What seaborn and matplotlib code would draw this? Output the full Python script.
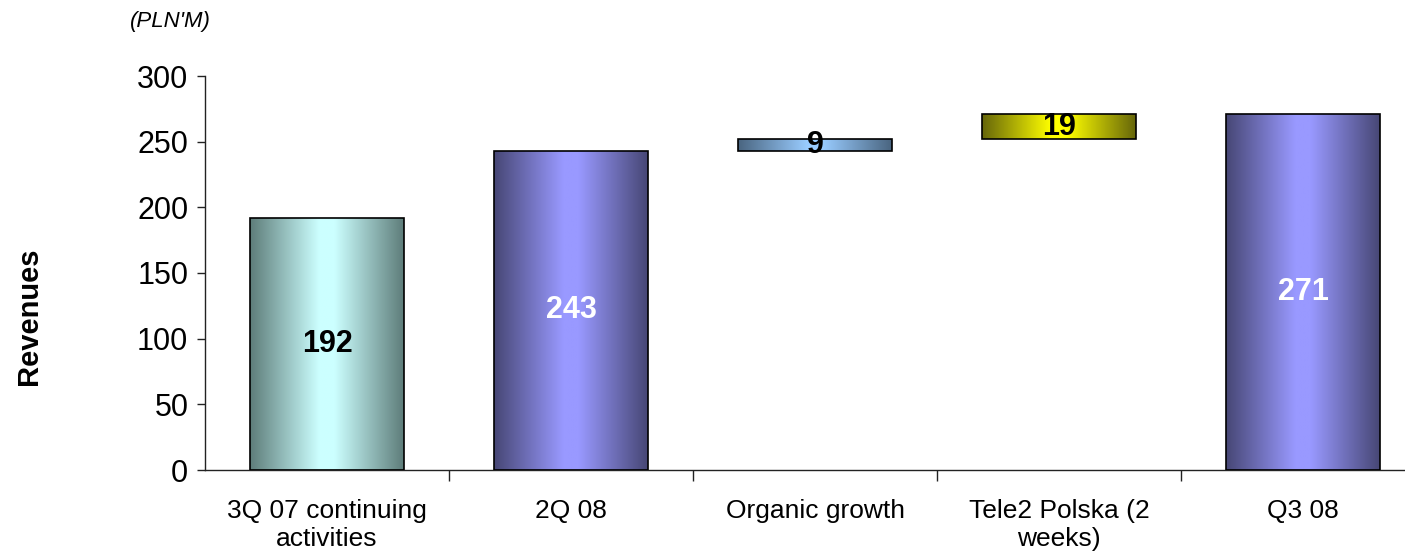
import numpy as np
import matplotlib
matplotlib.use("Agg")
import matplotlib.pyplot as plt
from matplotlib.colors import LinearSegmentedColormap
import seaborn as sns

# Revenue bridge data (PLN'M)
categories = ["3Q 07 continuing\nactivities", "2Q 08", "Organic growth",
              "Tele2 Polska (2\nweeks)", "Q3 08"]
values = [192, 243, 9, 19, 271]
bottoms = [0, 0, 243, 252, 0]
value_labels = ["192", "243", "9", "19", "271"]

# gradient colours per bar: (edge shade, centre shade), label colour
edge_cols = ["#5e7d7a", "#474775", "#4a6580", "#66660a", "#474775"]
mid_cols = ["#ccffff", "#9999ff", "#99ccff", "#ffff00", "#9999ff"]
label_cols = ["black", "white", "black", "black", "white"]

sns.set_style("white")
plt.rcParams["font.family"] = ["Liberation Sans", "DejaVu Sans"]
plt.rcParams["text.color"] = "black"
plt.rcParams["xtick.color"] = "black"
plt.rcParams["ytick.color"] = "black"

fig = plt.figure(figsize=(14.05, 5.52), dpi=100)
ax = fig.add_axes([205 / 1405, 1 - 470 / 552, 1220 / 1405, (470 - 76) / 552])

tops = [b + v for b, v in zip(bottoms, values)]
sns.barplot(x=categories, y=tops, ax=ax, width=0.63, color="white",
            edgecolor="black", linewidth=1.2, saturation=1)

patches = ax.patches
for i, p in enumerate(patches):
    p.set_y(bottoms[i])
    p.set_height(values[i])
    p.set_facecolor("none")
    p.set_zorder(3)
    x0 = p.get_x()
    w = p.get_width()
    cmap = LinearSegmentedColormap.from_list(
        f"g{i}", [(0, edge_cols[i]), (0.45, mid_cols[i]),
                  (0.55, mid_cols[i]), (1, edge_cols[i])])
    grad = np.linspace(0, 1, 256).reshape(1, -1)
    im = ax.imshow(grad, cmap=cmap, aspect="auto", interpolation="bilinear",
                   extent=[x0, x0 + w, bottoms[i], bottoms[i] + values[i]],
                   zorder=2)
    im.set_clip_path(p)
    ax.text(x0 + w / 2, bottoms[i] + values[i] / 2, value_labels[i],
            ha="center", va="center", fontsize=22, fontweight="bold",
            color=label_cols[i], zorder=4)

ax.set_xlim(-0.5, 4.5)
ax.set_ylim(0, 300)
ax.set_aspect("auto")

sns.despine(ax=ax, top=True, right=True)
for s in ["left", "bottom"]:
    ax.spines[s].set_color("#222222")
    ax.spines[s].set_linewidth(1.0)

ax.set_yticks(np.arange(0, 301, 50))
ax.tick_params(axis="y", which="major", length=6, width=1, color="#222222",
               direction="out", labelsize=22, pad=6, left=True,
               labelcolor="black")
ax.set_xticks(range(len(categories)))
ax.set_xticklabels(categories, fontsize=19, linespacing=1.22, color="black")
ax.tick_params(axis="x", which="major", length=0, pad=21)
ax.set_xticks([0.5, 1.5, 2.5, 3.5], minor=True)
ax.tick_params(axis="x", which="minor", length=8, width=1, color="#222222",
               direction="out", bottom=True)

fig.text(29 / 1405, 1 - 316 / 552, "Revenues", fontsize=21, fontweight="bold",
         rotation=90, ha="center", va="center", color="black")
fig.text(130 / 1405, 1 - 22 / 552, "(PLN'M)", fontsize=16, style="italic",
         ha="left", va="center", color="black")

fig.savefig("out.png", dpi=100)
